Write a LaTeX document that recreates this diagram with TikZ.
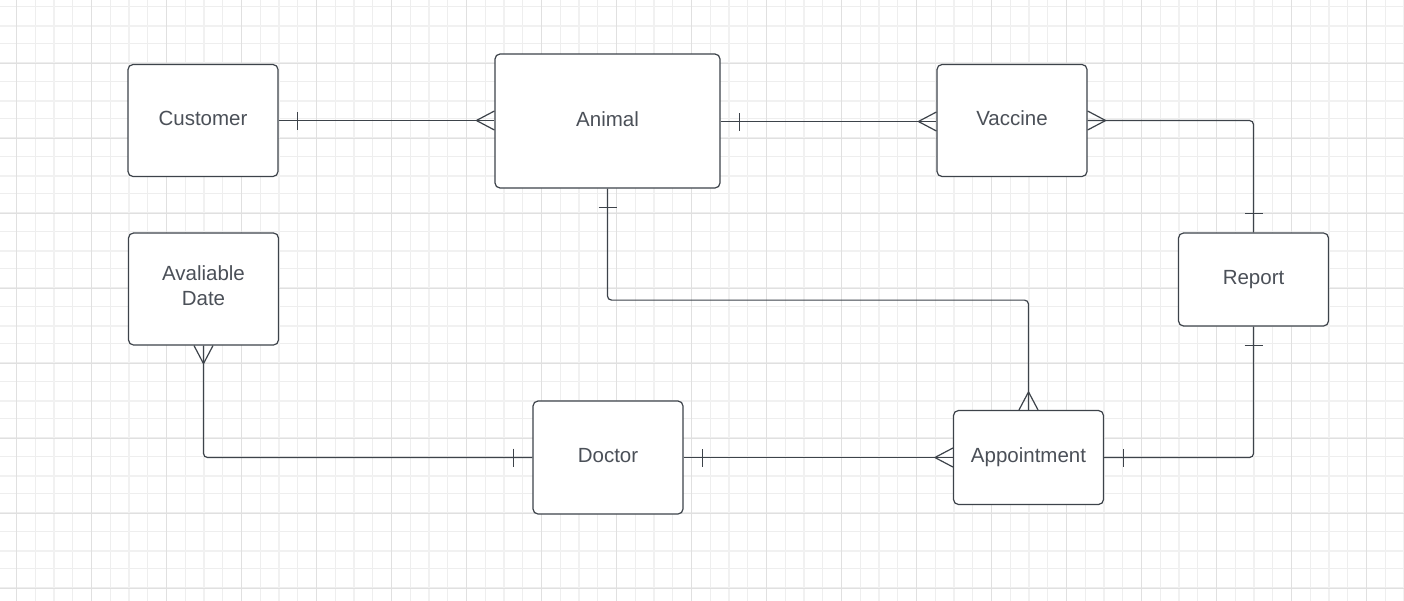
\documentclass[tikz,border=0pt]{standalone}
\usepackage{fontspec}
\setmainfont{Liberation Sans}
\usetikzlibrary{positioning}

\definecolor{erline}{HTML}{3D434A}
\definecolor{ertext}{HTML}{4B5058}
\definecolor{gridminor}{HTML}{EEEEEE}
\definecolor{gridwide}{HTML}{F1F1F1}
\definecolor{gridmajor}{HTML}{E0E0E0}

\tikzset{
  entity/.style={draw=erline,line width=1.2pt,fill=white,rounded corners=5pt,
    minimum width=150pt,minimum height=112pt,inner sep=0pt,align=center,
    text=ertext,font=\fontsize{20.5}{25}\selectfont,
    execute at end node=\strut},
  link/.style={draw=erline,line width=1.2pt,rounded corners=4pt},
  crow/.pic={\draw[link] (18pt,0pt) -- (0pt,9.5pt) (18pt,0pt) -- (0pt,-9.5pt);},
  bar/.pic={\draw[link] (19pt,-9pt) -- (19pt,9pt);}
}

\begin{document}
\begin{tikzpicture}[x=1pt,y=1pt]
    \useasboundingbox (0,0) rectangle (1404,-600);
    \begin{scope}
	\clip (0,0) rectangle (1404,-600);
	\fill[white] (0,0) rectangle (1404,-600);
	\begin{scope}[shift={(-2.05,-6.25)}]
	\draw[step=18.75pt,gridminor,line width=1pt] (-20,20) grid (1420,-620);
	\end{scope}
	\begin{scope}[shift={(54.2,-25.8)}]
	\draw[step=75pt,gridwide,line width=2.5pt] (-80,80) grid (1420,-620);
	\end{scope}
	\begin{scope}[shift={(16.7,-63.3)}]
	\draw[step=75pt,gridmajor,line width=0.9pt] (-80,80) grid (1420,-620);
	\end{scope}
    \end{scope}

	% entities
	\node[entity] (customer) at (203,-120.5) {Customer};
	\node[entity,minimum width=225pt,minimum height=134pt] (animal) at (607.5,-121) {Animal};
	\node[entity] (vaccine) at (1012,-120.5) {Vaccine};
	\node[entity,minimum height=93pt] (report) at (1253.5,-279.5) {Report};
	\node[entity] (date) at (203.5,-289) {Avaliable\\Date};
	\node[entity,minimum height=113pt] (doctor) at (608,-457.5) {Doctor};
	\node[entity,minimum height=94pt] (appointment) at (1028.5,-457.5) {Appointment};

	% relations
	\draw[link] (customer.east) -- (customer.east -| animal.west);
	\pic at (customer.east) {bar};
	\pic[rotate=180] at (customer.east -| animal.west) {crow};

	\draw[link] (animal.east |- 0,-121.5) -- (vaccine.west |- 0,-121.5);
	\pic at (animal.east |- 0,-121.5) {bar};
	\pic[rotate=180] at (vaccine.west |- 0,-121.5) {crow};

	\draw[link] (vaccine.east) -| (report.north);
	\pic at (vaccine.east) {crow};
	\pic[rotate=90] at (report.north) {bar};

	\draw[link] (report.south) |- (appointment.east);
	\pic[rotate=-90] at (report.south) {bar};
	\pic at (appointment.east) {bar};

	\draw[link] (animal.south) -- ++(0,-111.5) -| (appointment.north);
	\pic[rotate=-90] at (animal.south) {bar};
	\pic[rotate=90] at (appointment.north) {crow};

	\draw[link] (doctor.east) -- (doctor.east -| appointment.west);
	\pic at (doctor.east) {bar};
	\pic[rotate=180] at (doctor.east -| appointment.west) {crow};

	\draw[link] (date.south) |- (doctor.west);
	\pic[rotate=-90] at (date.south) {crow};
	\pic[rotate=180] at (doctor.west) {bar};
\end{tikzpicture}
\end{document}
